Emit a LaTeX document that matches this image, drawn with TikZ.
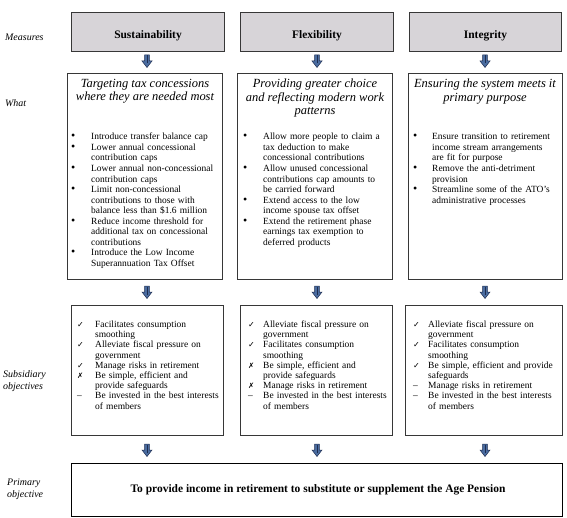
\documentclass[tikz,border=0pt]{standalone}
\usepackage{fontspec}
\setmainfont{Liberation Serif}
\newfontfamily\symfont{DejaVu Sans}
\definecolor{topfill}{RGB}{215,212,216}
\definecolor{boxline}{RGB}{55,55,55}
\definecolor{arrfill}{RGB}{74,108,160}
\definecolor{arrline}{RGB}{30,45,80}
\newlength\hangw
\newcommand\itm[2]{\par\noindent\hangindent=\hangw\hangafter=1\makebox[\hangw][l]{#1}#2\par}
\newcommand\bul{{\fontsize{12}{10}\selectfont\textbullet}}
\newcommand\chk{{\symfont\fontsize{8}{8}\selectfont ✓}}
\newcommand\crs{{\symfont\fontsize{7.5}{8}\selectfont ✗}}
\newcommand\dsh{–}
\begin{document}
\begin{tikzpicture}[x=1bp,y=-1bp,
  box/.style={draw=boxline, line width=1bp, anchor=north west, inner sep=0pt},
  topbox/.style={box, fill=topfill, font=\fontsize{11.5}{13}\selectfont\bfseries, text height=13bp, text depth=0bp},
  headtxt/.style={anchor=north, align=center, inner sep=0pt, font=\fontsize{12.5}{13.5}\selectfont\itshape},
  listtxt/.style={anchor=north west, align=left, inner sep=0pt, text width=150bp, font=\fontsize{9.5}{10.6}\selectfont},
  sublist/.style={anchor=north west, align=left, inner sep=0pt, text width=150bp, font=\fontsize{9.5}{10.25}\selectfont},
  sidelbl/.style={anchor=west, align=left, inner sep=0pt, font=\fontsize{10}{12}\selectfont\itshape},
  primtxt/.style={anchor=center, inner sep=0pt, font=\fontsize{11.5}{13}\selectfont\bfseries},
  downarr/.pic={
    \filldraw[fill=arrfill, draw=arrline, line width=0.5bp]
      (-2.3,0) -- (2.3,0) -- (2.3,6) -- (5,6) -- (0,12.5) -- (-5,6) -- (-2.3,6) -- cycle;
    \draw[arrline, line width=1bp] (0,0.5) -- (0,8.5);
  }
]
\useasboundingbox (0,0) rectangle (567,518);

% side labels
\node[sidelbl] (lmeas) at (5,37) {Measures};
\node[sidelbl] (lwhat) at (5,103) {What};
\node[sidelbl] (lsub) at (3,381) {Subsidiary\\objectives};
\node[sidelbl] (lprim) at (7,489) {Primary\\objective};

% measures
\node[topbox, minimum width=153bp, minimum height=39bp] (m1) at (71,12) {Sustainability};
\node[topbox, minimum width=153bp, minimum height=39bp] (m2) at (240,12) {Flexibility};
\node[topbox, minimum width=152bp, minimum height=39bp] (m3) at (409,12) {Integrity};

% arrows row 1
\coordinate (a11) at (147,55);
\coordinate (a12) at (317,55);
\coordinate (a13) at (485,55);
\pic at (a11) {downarr};
\pic at (a12) {downarr};
\pic at (a13) {downarr};

% what boxes
\node[box, minimum width=155bp, minimum height=206bp] (w1) at (67,73) {};
\node[box, minimum width=155bp, minimum height=206bp] (w2) at (237,73) {};
\node[box, minimum width=154bp, minimum height=206bp] (w3) at (408,73) {};

\node[headtxt] (h1) at (145,79) {Targeting tax concessions\\where they are needed most};
\node[headtxt] (h2) at (315,79) {Providing greater choice\\and reflecting modern work\\patterns};
\node[headtxt] (h3) at (485,79) {Ensuring the system meets it\\primary purpose};

\node[listtxt] (l1) at (71,129) {\setlength\hangw{20bp}%
\itm{\bul}{Introduce transfer balance cap}
\itm{\bul}{Lower annual concessional\newline contribution caps}
\itm{\bul}{Lower annual non-concessional\newline contribution caps}
\itm{\bul}{Limit non-concessional\newline contributions to those with\newline balance less than \$1.6 million}
\itm{\bul}{Reduce income threshold for\newline additional tax on concessional\newline contributions}
\itm{\bul}{Introduce the Low Income\newline Superannuation Tax Offset}};

\node[listtxt] (l2) at (243,129) {\setlength\hangw{20bp}%
\itm{\bul}{Allow more people to claim a\newline tax deduction to make\newline concessional contributions}
\itm{\bul}{Allow unused concessional\newline contributions cap amounts to\newline be carried forward}
\itm{\bul}{Extend access to the low\newline income spouse tax offset}
\itm{\bul}{Extend the retirement phase\newline earnings tax exemption to\newline deferred products}};

\node[listtxt] (l3) at (413,129) {\setlength\hangw{19bp}%
\itm{\bul}{Ensure transition to retirement\newline income stream arrangements\newline are fit for purpose}
\itm{\bul}{Remove the anti-detriment\newline provision}
\itm{\bul}{Streamline some of the ATO’s\newline administrative processes}};

% arrows row 2
\coordinate (a21) at (147,286);
\coordinate (a22) at (317,286);
\coordinate (a23) at (485,286);
\pic at (a21) {downarr};
\pic at (a22) {downarr};
\pic at (a23) {downarr};

% subsidiary boxes
\node[box, minimum width=152bp, minimum height=130bp] (s1) at (71,305) {};
\node[box, minimum width=152bp, minimum height=130bp] (s2) at (240,305) {};
\node[box, minimum width=157bp, minimum height=130bp] (s3) at (405,305) {};

\node[sublist] (t1) at (77,317) {\setlength\hangw{18bp}%
\itm{\chk}{Facilitates consumption\newline smoothing}
\itm{\chk}{Alleviate fiscal pressure on\newline government}
\itm{\chk}{Manage risks in retirement}
\itm{\crs}{Be simple, efficient and\newline provide safeguards}
\itm{\dsh}{Be invested in the best interests\newline of members}};

\node[sublist] (t2) at (248,317) {\setlength\hangw{15bp}%
\itm{\chk}{Alleviate fiscal pressure on\newline government}
\itm{\chk}{Facilitates consumption\newline smoothing}
\itm{\crs}{Be simple, efficient and\newline provide safeguards}
\itm{\crs}{Manage risks in retirement}
\itm{\dsh}{Be invested in the best interests\newline of members}};

\node[sublist] (t3) at (413,317) {\setlength\hangw{15bp}%
\itm{\chk}{Alleviate fiscal pressure on\newline government}
\itm{\chk}{Facilitates consumption\newline smoothing}
\itm{\chk}{Be simple, efficient and provide\newline safeguards}
\itm{\dsh}{Manage risks in retirement}
\itm{\dsh}{Be invested in the best interests\newline of members}};

% arrows row 3
\coordinate (a31) at (147,444);
\coordinate (a32) at (317,444);
\coordinate (a33) at (485,444);
\pic at (a31) {downarr};
\pic at (a32) {downarr};
\pic at (a33) {downarr};

% primary objective
\node[box, draw=black, line width=1.2bp, minimum width=491bp, minimum height=53bp] (p) at (71,463) {};
\node[primtxt] (pt) at (318,490) {To provide income in retirement to substitute or supplement the Age Pension};
\end{tikzpicture}
\end{document}
